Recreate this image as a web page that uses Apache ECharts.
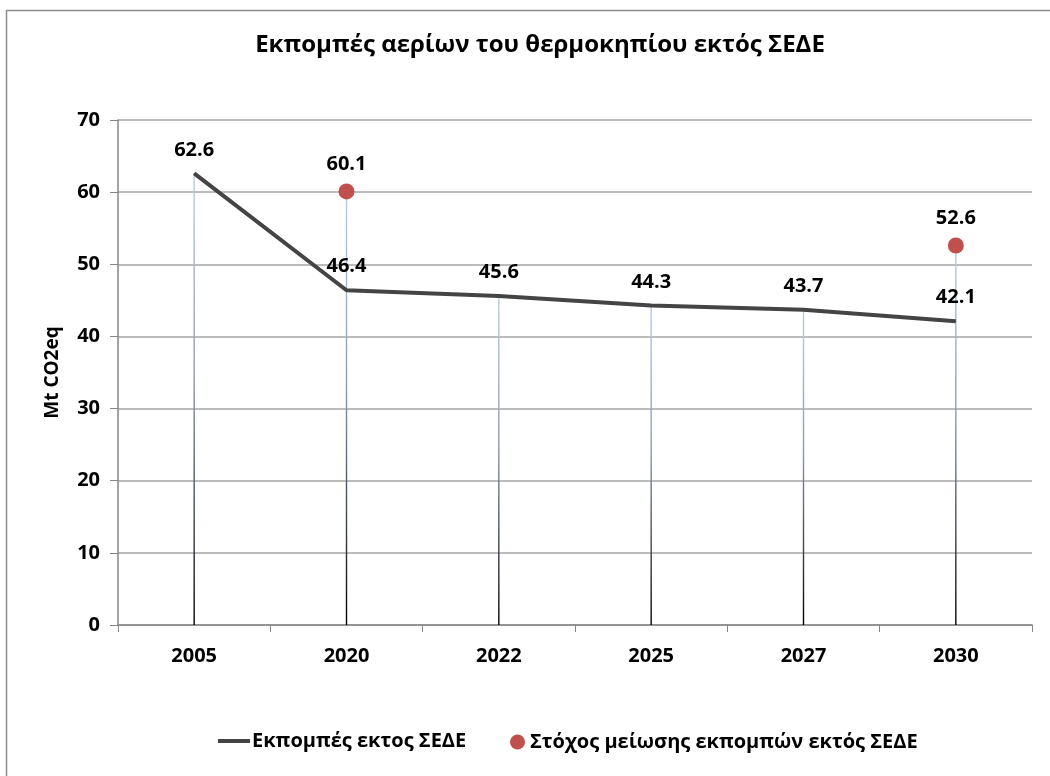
<!DOCTYPE html>
<html>
<head>
<meta charset="utf-8">
<script src="https://cdn.jsdelivr.net/npm/echarts@6/dist/echarts.min.js"></script>
<style>
html,body{margin:0;padding:0;background:#fff;}
#chart{width:1050px;height:776px;}
</style>
</head>
<body>
<div id="chart"></div>
<script>
const titleText = 'Εκπομπές αερίων του θερμοκηπίου εκτός ΣΕΔΕ';
const yAxisName = 'Mt CO2eq';
const categories = ['2005', '2020', '2022', '2025', '2027', '2030'];
const emissionsName = 'Εκπομπές εκτος ΣΕΔΕ';
const emissions = [62.6, 46.4, 45.6, 44.3, 43.7, 42.1];
const targetName = 'Στόχος μείωσης εκπομπών εκτός ΣΕΔΕ';
const targets = [null, 60.1, null, null, null, 52.6];
const yMin = 0, yMax = 70, yStep = 10;

const dropTops = categories.map((c, i) => Math.max(emissions[i], targets[i] == null ? -Infinity : targets[i]));

const FONT = 'Open Sans';
const chart = echarts.init(document.getElementById('chart'), null, {renderer: 'canvas'});
chart.setOption({
  animation: false,
  backgroundColor: '#fff',
  textStyle: {fontFamily: FONT},
  graphic: [{
    type: 'rect',
    shape: {x: 6.5, y: 10.5, width: 1100, height: 800},
    style: {fill: 'none', stroke: '#8c8c8c', lineWidth: 1.5},
    silent: true, z: 0
  }],
  title: {
    text: titleText,
    left: 535, top: 28, textAlign: 'center',
    textStyle: {fontFamily: FONT, fontWeight: 'bold', fontSize: 24, color: '#000'}
  },
  legend: [{
    data: [emissionsName],
    left: 213, top: 726,
    icon: 'rect', itemWidth: 32, itemHeight: 4, itemGap: 0,
    textStyle: {fontFamily: FONT, fontWeight: 'bold', fontSize: 20, color: '#000', padding: [0, 0, 0, -3]}
  }, {
    data: [targetName],
    left: 505, top: 727,
    icon: 'circle', itemWidth: 15, itemHeight: 15,
    textStyle: {fontFamily: FONT, fontWeight: 'bold', fontSize: 20, color: '#000'}
  }],
  grid: {left: 118, right: 18, top: 120, bottom: 151, containLabel: false},
  xAxis: {
    type: 'category',
    data: categories,
    boundaryGap: true,
    axisLine: {lineStyle: {color: '#868686', width: 1.5}},
    axisTick: {show: true, length: 7, lineStyle: {color: '#868686', width: 1}},
    axisLabel: {margin: 21, fontFamily: FONT, fontWeight: 'bold', fontSize: 20, color: '#000'},
    splitLine: {show: false}
  },
  yAxis: {
    type: 'value',
    min: yMin, max: yMax, interval: yStep,
    name: yAxisName,
    nameLocation: 'middle',
    nameGap: 56,
    nameRotate: 90,
    nameTextStyle: {fontFamily: FONT, fontWeight: 'bold', fontSize: 19, color: '#000'},
    axisLine: {show: true, lineStyle: {color: '#868686', width: 1.5}},
    axisTick: {show: true, length: 8, lineStyle: {color: '#868686', width: 1}},
    axisLabel: {margin: 18, fontFamily: FONT, fontWeight: 'bold', fontSize: 20, color: '#000'},
    splitLine: {show: true, lineStyle: {color: '#a6a6a6', width: 1.5}}
  },
  series: [{
    name: 'drop',
    type: 'bar',
    data: dropTops,
    barWidth: 1.4,
    silent: true,
    z: 1,
    itemStyle: {
      color: {type: 'linear', x: 0, y: 0, x2: 0, y2: 1,
        colorStops: [{offset: 0, color: '#b9cde5'}, {offset: 0.45, color: '#8a9ab0'}, {offset: 1, color: '#000000'}]}
    },
    legendHoverLink: false
  }, {
    name: emissionsName,
    type: 'line',
    data: emissions,
    z: 3,
    showSymbol: true,
    symbol: 'circle',
    symbolSize: 1,
    lineStyle: {color: '#444444', width: 4},
    itemStyle: {color: '#444444'},
    label: {show: true, position: 'top', distance: 13, fontFamily: FONT, fontWeight: 'bold', fontSize: 20, color: '#000'}
  }, {
    name: targetName,
    type: 'scatter',
    data: targets,
    z: 4,
    symbol: 'circle',
    symbolSize: 16,
    itemStyle: {color: '#c0504d', opacity: 1},
    label: {show: true, position: 'top', distance: 9, fontFamily: FONT, fontWeight: 'bold', fontSize: 20, color: '#000'}
  }]
});
</script>
</body>
</html>
